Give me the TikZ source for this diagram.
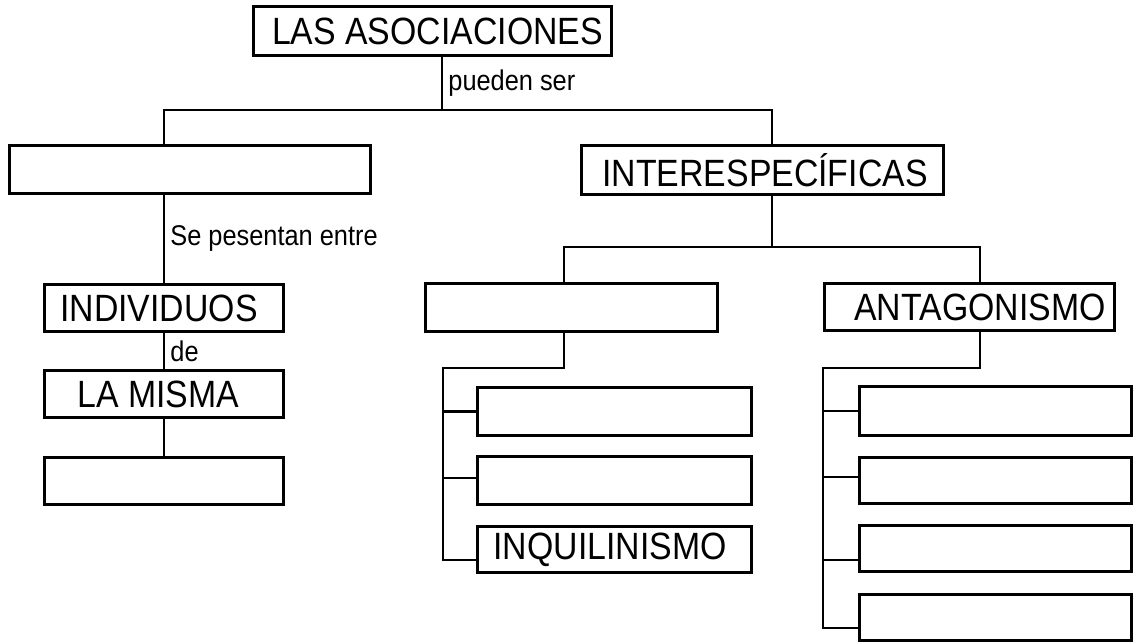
\documentclass[tikz,border=0pt]{standalone}
\usepackage{fontspec}
\setmainfont{Liberation Sans}[FakeStretch=0.89]
\usepackage{tikz}
\usetikzlibrary{positioning}

\begin{document}
\begin{tikzpicture}[x=1pt, y=-1pt,
    box/.style={draw, line width=3.4pt, inner sep=0pt, font=\fontsize{38}{44}\selectfont},
    link/.style={line width=2.8pt},
    tag/.style={font=\fontsize{28.5}{34}\selectfont, inner sep=0pt, right=5pt}]
    \useasboundingbox (0,0) rectangle (1134,643);

    % Top of the map
    \node[box, minimum width=358, minimum height=49] (asoc) at (432.5,31) {\hspace*{10pt}LAS ASOCIACIONES};

    % Left branch
    \node[box, minimum width=361, minimum height=48] (intra) at (190,169.5) {};
    \node[box, minimum width=239, minimum height=47] (indiv) at (164,308) {INDIVIDUOS\hspace*{10pt}};
    \node[box, minimum width=239, minimum height=47] (misma) at (164,394) {LA MISMA\hspace*{11pt}};
    \node[box, minimum width=239, minimum height=47] (especie) at (164,481) {};

    % Right branch
    \node[box, minimum width=362, minimum height=49] (inter) at (762.5,170) {\hspace*{5pt}INTERESPECÍFICAS};
    \node[box, minimum width=292, minimum height=48] (arm) at (571.5,307.5) {};
    \node[box, minimum width=290, minimum height=47] (antag) at (969.5,307) {\hspace*{21pt}ANTAGONISMO};

    % Boxes under the middle branch
    \node[box, minimum width=274, minimum height=48] (arm1) at (614.5,411.5) {};
    \node[box, minimum width=274, minimum height=48] (arm2) at (614.5,480.5) {};
    \node[box, minimum width=274, minimum height=46] (inq) at (614.5,549.5) {INQUILINISMO\hspace*{9pt}};

    % Boxes under antagonismo
    \node[box, minimum width=272, minimum height=49] (ant1) at (995.5,411) {};
    \node[box, minimum width=272, minimum height=46] (ant2) at (995.5,480.5) {};
    \node[box, minimum width=272, minimum height=46] (ant3) at (995.5,548.5) {};
    \node[box, minimum width=272, minimum height=46] (ant4) at (995.5,617.5) {};

    % Junctions
    \coordinate (j1) at (442,110);
    \coordinate (j2) at (772,247);
    \coordinate (s1) at (443,368);
    \coordinate (s2) at (823,368);

    % Connectors
    \draw[link] (asoc.south -| j1) -- node[tag] {pueden ser} (j1);
    \draw[link] (intra.north -| indiv) |- (j1) -| ([xshift=9.5pt]inter.north);
    \draw[link] (intra.south -| indiv) -- node[tag] {Se pesentan entre} (indiv.north);
    \draw[link] (indiv) -- node[tag] {de} (misma);
    \draw[link] (misma) -- (especie);

    \draw[link] (inter.south -| j2) -- (j2);
    \draw[link] ([xshift=-7.5pt]arm.north) |- (j2) -| ([xshift=10.5pt]antag.north);

    \draw[link] ([xshift=-7.5pt]arm.south) |- (s1) |- ([yshift=-10.5pt]inq.west);
    \draw[link] (s1 |- arm1.west) -- (arm1.west);
    \draw[link] ([yshift=2.5pt]s1 |- arm2.west) -- ([yshift=2.5pt]arm2.west);

    \draw[link] ([xshift=10.5pt]antag.south) |- (s2) |- ([yshift=-10.5pt]ant4.west);
    \draw[link] (s2 |- ant1.west) -- (ant1.west);
    \draw[link] ([yshift=3.5pt]s2 |- ant2.west) -- ([yshift=3.5pt]ant2.west);
    \draw[link] ([yshift=-11.5pt]s2 |- ant3.west) -- ([yshift=-11.5pt]ant3.west);
\end{tikzpicture}
\end{document}
